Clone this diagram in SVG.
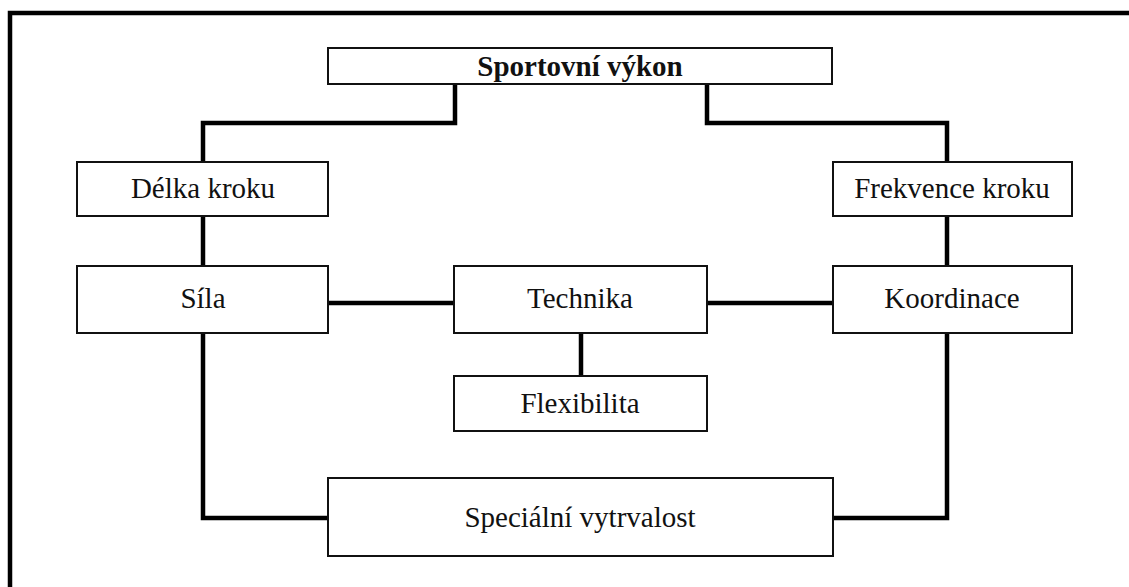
<svg xmlns="http://www.w3.org/2000/svg" width="1129" height="587" viewBox="0 0 1129 587">
<style>
.box{fill:#fff;stroke:#111;stroke-width:2}
.con{fill:none;stroke:#000;stroke-width:4.5;stroke-linejoin:miter;stroke-linecap:square}
text{font-family:"Liberation Serif","Times New Roman",serif;font-size:29px;fill:#111;text-anchor:middle}
.b{font-weight:bold}
</style>
<rect width="1129" height="587" fill="#fff"/>
<path d="M10,587 V13 H1129" fill="none" stroke="#000" stroke-width="4.5"/>
<g id="connectors">
<path class="con" d="M455,85 V123 H203 V161"/>
<path class="con" d="M707,85 V123 H947 V161"/>
<path class="con" d="M203,217 V265"/>
<path class="con" d="M947,217 V265"/>
<path class="con" d="M329,303 H453"/>
<path class="con" d="M708,303 H831"/>
<path class="con" d="M581,334 V375"/>
<path class="con" d="M203,334 V518 H326"/>
<path class="con" d="M947,334 V518 H834"/>
</g>
<g id="sportovni-vykon"><rect class="box" x="328" y="48" width="504" height="36"/><text class="b" x="580" y="76">Sportovní výkon</text></g>
<g id="delka-kroku"><rect class="box" x="77" y="162" width="251" height="54"/><text x="203" y="198">Délka kroku</text></g>
<g id="frekvence-kroku"><rect class="box" x="833" y="162" width="239" height="54"/><text x="952" y="198">Frekvence kroku</text></g>
<g id="sila"><rect class="box" x="77" y="266" width="251" height="67"/><text x="203" y="308">Síla</text></g>
<g id="technika"><rect class="box" x="454" y="266" width="253" height="67"/><text x="580" y="308">Technika</text></g>
<g id="koordinace"><rect class="box" x="833" y="266" width="239" height="67"/><text x="952" y="308">Koordinace</text></g>
<g id="flexibilita"><rect class="box" x="454" y="376" width="253" height="55"/><text x="580" y="413">Flexibilita</text></g>
<g id="specialni-vytrvalost"><rect class="box" x="328" y="478" width="505" height="78"/><text x="580" y="527">Speciální vytrvalost</text></g>
</svg>
